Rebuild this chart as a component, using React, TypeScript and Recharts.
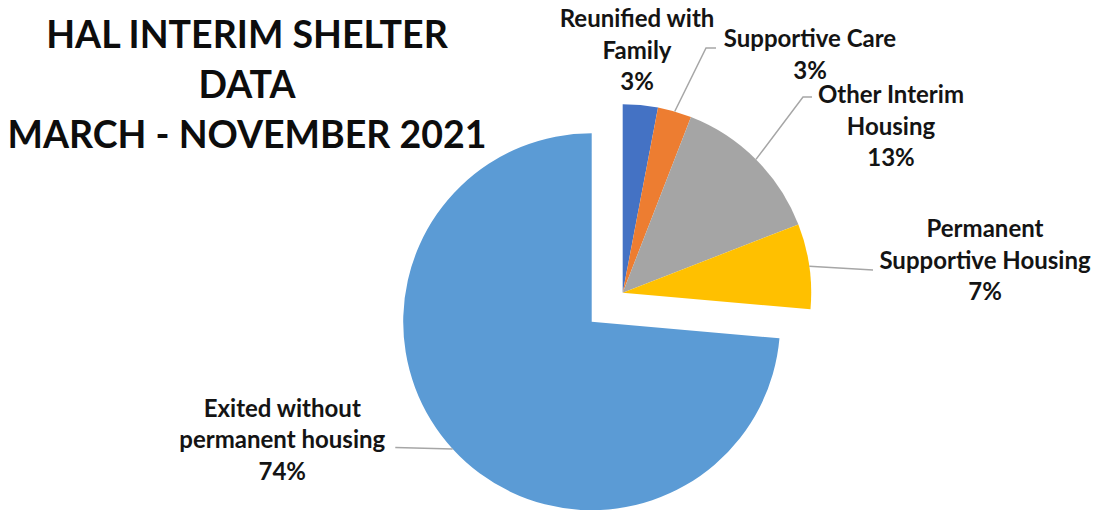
import React from 'react';
import { PieChart, Pie, Cell } from 'recharts';

const categories = [
  'Reunified with Family',
  'Supportive Care',
  'Other Interim Housing',
  'Permanent Supportive Housing',
  'Exited without permanent housing',
];
const labelTexts = [
  ['Reunified with', 'Family'],
  ['Supportive Care'],
  ['Other Interim', 'Housing'],
  ['Permanent', 'Supportive Housing'],
  ['Exited without', 'permanent housing'],
];
// shares (labels round to 3%, 3%, 13%, 7%, 74%)
const values = [3.0, 2.9, 13.2, 7.3, 73.6];
const colors = ['#4472C4', '#ED7D31', '#A5A5A5', '#FFC000', '#5B9BD5'];
const titleLines = ['HAL INTERIM SHELTER', 'DATA', 'MARCH - NOVEMBER 2021'];
const explodedCount = 4;

// layout (styling only)
const W = 1096;
const H = 510;
const R = 188.5;
const mainCenter = { x: 591.7, y: 321.7 };
const explodedCenter = { x: 622.7, y: 292.7 };
const FONT = 'Lato, "Open Sans", sans-serif';
const LABEL_SIZE = 24;
const LINE_PITCH = 31.5;
// label placement relative to the slice's outer edge point at its mid angle
const labelLayout = [
  { text: [-3.4, -78], leader: [] as number[][] },
  { text: [135.3, -64.5], leader: [[31.3, -63.5], [41.3, -63.5]] },
  { text: [135, -56.4], leader: [[47, -62.4], [56, -62.4]] },
  { text: [175.7, -29.1], leader: [[63.7, 3.9]] },
  { text: [-170.4, -32.4], leader: [[-57.4, -1.4]] },
];

const total = values.reduce((a, b) => a + b, 0);
const rows = categories.map((name, i) => ({ name, value: values[i], idx: i }));
const explodedShare = values.slice(0, explodedCount).reduce((a, b) => a + b, 0) / total;
const splitAngle = 90 - 360 * explodedShare;

const RAD = Math.PI / 180;

const renderLabel = (props: any) => {
  const { cx, cy, midAngle, outerRadius, payload } = props;
  const idx = payload && payload.idx !== undefined ? payload.idx : props.idx;
  const lay = labelLayout[idx];
  const ex = cx + outerRadius * Math.cos(-midAngle * RAD);
  const ey = cy + outerRadius * Math.sin(-midAngle * RAD);
  const pct = Math.round((values[idx] / total) * 100) + '%';
  const lines = [...labelTexts[idx], pct];
  const pts = [[ex, ey], ...lay.leader.map((p) => [ex + p[0], ey + p[1]])];
  const tx = ex + lay.text[0];
  const ty = ey + lay.text[1];
  return (
    <g key={'lbl' + idx}>
      {lay.leader.length > 0 && (
        <polyline
          points={pts.map((p) => p.join(',')).join(' ')}
          fill="none"
          stroke="#A6A6A6"
          strokeWidth={1.5}
        />
      )}
      <text
        textAnchor="middle"
        fontFamily={FONT}
        fontWeight={700}
        fontSize={LABEL_SIZE}
        fill="#141414"
      >
        {lines.map((l, i) => (
          <tspan key={i} x={tx} y={ty + i * LINE_PITCH}>
            {l}
          </tspan>
        ))}
      </text>
    </g>
  );
};

export default function App() {
  return (
    <div style={{ position: 'absolute', left: 0, top: 0, width: W, height: H, background: '#fff', overflow: 'hidden' }}>
      <PieChart width={W} height={H} margin={{ top: 0, right: 0, bottom: 0, left: 0 }}>
        <Pie
          data={rows.slice(explodedCount)}
          dataKey="value"
          nameKey="name"
          cx={mainCenter.x}
          cy={mainCenter.y}
          outerRadius={R}
          startAngle={splitAngle}
          endAngle={-270}
          stroke="none"
          label={renderLabel}
          labelLine={false}
          isAnimationActive={false}
        >
          {rows.slice(explodedCount).map((r) => (
            <Cell key={r.name} fill={colors[r.idx]} />
          ))}
        </Pie>
        <Pie
          data={rows.slice(0, explodedCount)}
          dataKey="value"
          nameKey="name"
          cx={explodedCenter.x}
          cy={explodedCenter.y}
          outerRadius={R}
          startAngle={90}
          endAngle={splitAngle}
          stroke="none"
          label={renderLabel}
          labelLine={false}
          isAnimationActive={false}
        >
          {rows.slice(0, explodedCount).map((r) => (
            <Cell key={r.name} fill={colors[r.idx]} />
          ))}
        </Pie>
      </PieChart>
      <svg
        width={500}
        height={160}
        style={{ position: 'absolute', left: 0, top: 0, pointerEvents: 'none' }}
      >
        {titleLines.map((t, i) => (
          <text
            key={t}
            x={247}
            y={48 + i * 50}
            textAnchor="middle"
            fontFamily={FONT}
            fontWeight={700}
            fontSize={37.5}
            fill="#0d0d0d"
          >
            {t}
          </text>
        ))}
      </svg>
    </div>
  );
}
